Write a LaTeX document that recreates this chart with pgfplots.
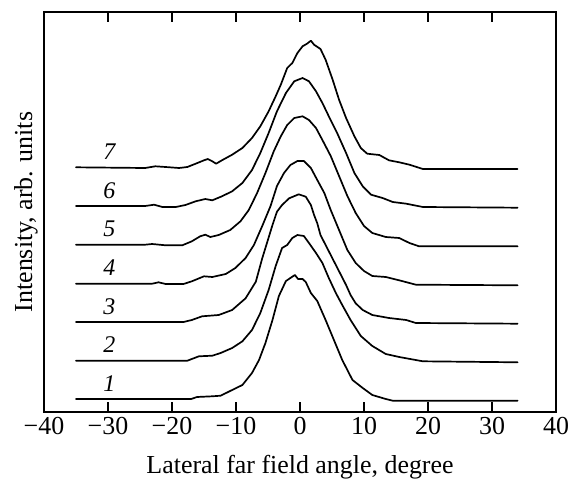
\documentclass[border=0pt]{standalone}
\usepackage{fontspec}
\setmainfont{Liberation Serif}
\usepackage{pgfplots}
\pgfplotsset{compat=1.18}
\begin{document}
\begin{tikzpicture}
\useasboundingbox (0,0) rectangle (574bp,479bp);
\begin{axis}[
  at={(44bp,67bp)}, anchor=south west,
  scale only axis, width=512bp, height=400bp,
  xmin=-40, xmax=40, ymin=0, ymax=400,
  xtick={-40,-30,-20,-10,0,10,20,30,40},
  xticklabels={−40,−30,−20,−10,0,10,20,30,40},
  ytick=\empty,
  tick align=inside, major tick length=10bp,
  xtick pos=both,
  axis line style={line width=1.5bp},
  every tick/.style={line width=1.2bp, black},
  tick label style={font=\fontsize{26}{30}\selectfont},
  xticklabel style={yshift=-2bp},
  xlabel={Lateral far field angle, degree},
  ylabel={Intensity, arb. units},
  label style={font=\fontsize{26}{30}\selectfont},
  xlabel style={at={(axis description cs:0.5,0)}, anchor=base, yshift=-61bp},
  ylabel style={at={(axis description cs:-0.0234,0.5)}, anchor=base},
  every axis plot post/.append style={black, solid, line width=1.7bp, line join=round, line cap=round, mark=none},
  clip=false,
]
\addplot coordinates {(-35,13) (-17,13) (-16.1,15) (-13.7,15.7) (-12.4,16.3) (-10.6,22) (-9.0,27) (-7.5,39) (-6.4,52) (-5.4,69) (-4.3,92) (-3.3,116) (-2.2,131) (-1.5,134) (-0.8,137) (-0.3,133) (0.4,133) (0.9,130) (1.7,119) (2.7,111) (4.0,92) (5.3,72) (6.6,52) (8.2,32) (9.8,24) (11.3,17) (13.4,13) (14.5,11.3) (34,11.3)};
\addplot coordinates {(-35,51.3) (-17.6,51.3) (-15.8,55.7) (-13.7,56.3) (-12.4,59) (-10.6,64) (-9.0,70.7) (-7.5,82) (-6.2,99) (-4.9,122) (-3.8,146) (-2.8,164) (-2.0,167) (-1.2,174) (-0.4,177) (0.6,176) (1.4,169) (2.5,159) (3.5,149) (4.5,134) (5.6,119) (6.6,107) (7.9,92) (9.5,76) (11.3,66) (13.4,58) (15.5,55) (19.2,50.7) (34,49.7)};
\addplot coordinates {(-35,90) (-18.2,90) (-16.9,92) (-15.3,95.7) (-12.7,97) (-10.6,102) (-8.5,113.7) (-6.9,130.3) (-5.9,153.7) (-5.1,170.3) (-4.3,187) (-3.6,200.3) (-2.8,207) (-1.7,213.7) (-0.2,217.7) (0.9,215.3) (1.7,207) (2.2,197) (2.7,188.7) (3.2,177) (4.0,167) (4.8,157) (5.6,147) (6.4,137) (7.2,127) (7.9,117) (8.7,108.7) (9.8,102) (11.3,97) (13.9,94) (16.6,92) (18.1,89) (34,88.3)};
\addplot coordinates {(-35,128.3) (-23.1,128.3) (-22.1,129.7) (-21.0,128) (-18.2,128) (-16.9,130.7) (-15.0,135.7) (-13.7,135) (-11.6,138) (-10.1,144) (-8.5,154) (-7.2,167) (-5.9,186) (-4.6,206) (-3.6,226) (-2.5,239) (-1.5,247) (-0.4,251) (0.6,251) (1.7,244) (2.7,232) (3.8,219) (4.8,202) (6.1,182) (7.4,162) (8.7,149) (10.0,141) (11.3,136) (13.4,135) (15.5,131.7) (18.1,127.3) (34,126.7)};
\addplot coordinates {(-35,167.3) (-24.2,167.3) (-23.1,168) (-21.0,166.7) (-18.4,166.7) (-16.9,170.7) (-15.6,175.7) (-14.8,177.3) (-14.0,175) (-12.7,177) (-10.9,182) (-9.3,190.7) (-8.0,202) (-6.7,219) (-5.4,239) (-4.1,260.7) (-3.0,275.7) (-2.0,287) (-0.9,294) (0.4,295.7) (1.4,292) (2.5,284) (3.5,272) (4.8,256) (6.1,236) (7.4,216) (8.7,199) (10.0,186) (11.3,179) (13.4,175) (15.5,174) (17.1,169) (18.6,165.7) (34,165.7)};
\addplot coordinates {(-35,206) (-24.2,206) (-22.8,207.3) (-21.5,205) (-19.4,205) (-17.9,207) (-16.3,210.7) (-14.8,213) (-13.7,211.7) (-12.2,215.7) (-10.6,220.7) (-9.0,229) (-7.5,242) (-6.2,259) (-4.9,279) (-3.6,300.7) (-2.2,319) (-0.9,330.7) (0.4,334) (1.4,330.7) (2.5,320.7) (3.5,309) (4.5,295.7) (5.8,279) (7.2,259) (8.5,239) (9.8,225.7) (11.1,217.3) (12.9,214) (14.5,210) (16.6,208.3) (19.2,205) (34,204.3)};
\addplot coordinates {(-35,244.7) (-24.2,244) (-22.6,245.7) (-21.0,245) (-18.9,244) (-17.6,245) (-16.3,248.3) (-15.0,251.7) (-14.4,253) (-13.7,250.7) (-13.1,248.3) (-12.2,251.7) (-10.6,257.3) (-9.0,264) (-7.5,274) (-6.2,285.7) (-4.9,300.7) (-3.8,315.7) (-3.0,327.3) (-2.0,344) (-1.2,349) (-0.4,359) (0.4,365.7) (1.1,368.3) (1.7,371.3) (2.2,367.3) (3.2,363) (4.0,352.3) (5.1,332.3) (6.1,312.3) (7.2,294) (8.5,275.7) (9.5,264) (10.5,258.3) (12.4,257) (13.9,251.7) (15.5,249.7) (17.1,247.3) (19.2,243) (34,243)};
\foreach \n/\y in {1/21, 2/59.3, 3/98, 4/136.3, 5/175.3, 6/214, 7/252.7} {
  \edef\tmp{\noexpand\node[anchor=base, inner sep=0pt, font=\noexpand\fontsize{24}{28}\noexpand\selectfont\noexpand\itshape] at (axis cs:-29.8,\y) {\n};}
  \tmp
}
\end{axis}
\end{tikzpicture}
\end{document}
